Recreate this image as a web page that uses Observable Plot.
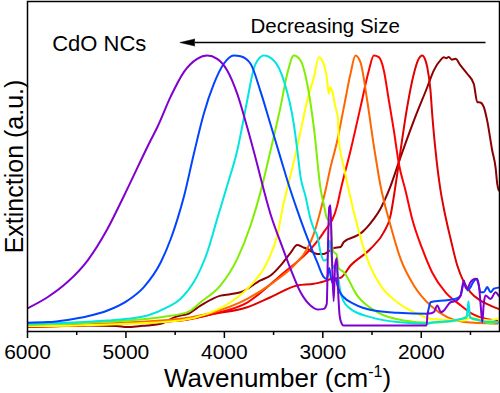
<!DOCTYPE html>
<html><head><meta charset="utf-8">
<script src="https://cdn.jsdelivr.net/npm/d3@7"></script>
<script src="https://cdn.jsdelivr.net/npm/@observablehq/plot@0.6"></script>
<style>body{margin:0;background:#fff;} svg{display:block}</style>
</head><body><div id="chart"></div>
<script>
// [wavenumber (cm-1), extinction (a.u., peak = 1)]
const s1 = [[6000,0.084],[5797,0.124],[5594,0.179],[5390,0.257],[5187,0.372],[5018,0.493],[4750,0.692],[4679,0.742],[4547,0.850],[4412,0.940],[4276,0.988],[4174,1.0],[4073,0.988],[3971,0.946],[3869,0.861],[3768,0.740],[3666,0.605],[3616,0.535],[3531,0.425],[3430,0.324],[3328,0.227],[3226,0.142],[3125,0.094],[3057,0.080],[2990,0.082],[2960,0.10],[2945,0.35],[2935,0.45],[2922,0.457],[2908,0.28],[2890,0.11],[2875,0.24],[2858,0.265],[2845,0.15],[2830,0.06],[2815,0.035],[2790,0.022],[2500,0.022],[2200,0.022],[1945,0.022],[1935,0.07],[1923,0.065],[1872,0.07],[1837,0.094],[1800,0.07],[1770,0.076],[1702,0.106],[1650,0.11],[1601,0.13],[1567,0.185],[1550,0.16],[1533,0.155],[1499,0.179],[1448,0.191],[1415,0.167],[1395,0.09],[1380,0.034],[1365,0.10],[1347,0.13],[1296,0.118],[1245,0.142],[1215,0.13]];
const s2 = [[6000,0.032],[5797,0.034],[5594,0.042],[5390,0.055],[5187,0.076],[4984,0.112],[4818,0.161],[4646,0.251],[4544,0.336],[4476,0.408],[4408,0.493],[4310,0.644],[4209,0.789],[4107,0.897],[4006,0.970],[3904,1.0],[3836,0.997],[3734,0.970],[3633,0.87],[3531,0.75],[3430,0.63],[3345,0.53],[3260,0.44],[3158,0.34],[3057,0.251],[2990,0.197],[2960,0.19],[2935,0.23],[2920,0.20],[2900,0.175],[2870,0.19],[2853,0.17],[2830,0.145],[2787,0.124],[2685,0.100],[2482,0.076],[2244,0.068],[1939,0.064],[1920,0.09],[1906,0.106],[1850,0.11],[1770,0.112],[1700,0.115],[1634,0.121],[1600,0.13],[1567,0.176],[1527,0.149],[1500,0.16],[1482,0.173],[1431,0.191],[1398,0.142],[1364,0.142],[1330,0.161],[1296,0.142],[1262,0.155],[1215,0.159]];
const s3 = [[6000,0.028],[5594,0.032],[5187,0.040],[4984,0.046],[4781,0.058],[4578,0.088],[4446,0.118],[4310,0.179],[4174,0.287],[4073,0.408],[3971,0.529],[3869,0.656],[3768,0.837],[3701,0.953],[3633,0.995],[3600,1.0],[3498,0.982],[3396,0.909],[3294,0.75],[3260,0.66],[3226,0.56],[3176,0.49],[3125,0.408],[3091,0.372],[3057,0.348],[3023,0.287],[2990,0.257],[2955,0.263],[2930,0.33],[2915,0.29],[2900,0.23],[2880,0.24],[2853,0.215],[2820,0.142],[2790,0.11],[2718,0.082],[2515,0.052],[2244,0.034],[1939,0.028],[1900,0.032],[1800,0.035],[1700,0.038],[1600,0.045],[1540,0.05],[1520,0.11],[1505,0.05],[1450,0.045],[1350,0.035],[1250,0.035],[1210,0.03]];
const s4 = [[6000,0.024],[5390,0.032],[4984,0.040],[4646,0.052],[4374,0.070],[4242,0.106],[4039,0.167],[3869,0.263],[3734,0.384],[3633,0.505],[3531,0.656],[3430,0.813],[3361,0.934],[3294,1.0],[3226,0.982],[3158,0.897],[3091,0.740],[3023,0.518],[2990,0.46],[2955,0.408],[2925,0.40],[2905,0.31],[2888,0.287],[2860,0.28],[2840,0.23],[2787,0.215],[2650,0.130],[2447,0.070],[2177,0.040],[1906,0.032],[1750,0.035],[1650,0.04],[1560,0.05],[1520,0.06],[1480,0.045],[1400,0.04],[1300,0.03],[1210,0.035]];
const s5 = [[6000,0.020],[5500,0.022],[4984,0.028],[4446,0.040],[4174,0.064],[3937,0.106],[3734,0.167],[3565,0.251],[3463,0.348],[3396,0.468],[3361,0.518],[3260,0.668],[3158,0.837],[3091,0.921],[3040,0.994],[3006,0.982],[2955,0.909],[2940,0.861],[2925,0.885],[2904,0.87],[2871,0.813],[2855,0.79],[2847,0.776],[2837,0.692],[2786,0.595],[2736,0.511],[2650,0.384],[2549,0.263],[2414,0.167],[2244,0.106],[2075,0.070],[1906,0.046],[1750,0.042],[1567,0.040],[1500,0.05],[1400,0.045],[1300,0.04],[1228,0.046]];
const s6 = [[6000,0.020],[5500,0.024],[4984,0.033],[4446,0.046],[4107,0.070],[3768,0.118],[3498,0.179],[3294,0.239],[3158,0.30],[3095,0.35],[3023,0.438],[2973,0.511],[2922,0.594],[2853,0.692],[2786,0.813],[2718,0.935],[2668,1.0],[2617,0.975],[2549,0.837],[2482,0.674],[2414,0.529],[2312,0.384],[2210,0.263],[2075,0.167],[1906,0.094],[1736,0.052],[1567,0.034],[1228,0.028]];
const s7 = [[6000,0.018],[5500,0.022],[5000,0.03],[4446,0.040],[4100,0.065],[3768,0.105],[3430,0.203],[3091,0.312],[2990,0.36],[2853,0.457],[2820,0.511],[2718,0.656],[2617,0.813],[2532,0.946],[2482,1.0],[2431,0.994],[2380,0.946],[2329,0.837],[2278,0.728],[2227,0.607],[2160,0.511],[2092,0.408],[1990,0.30],[1889,0.214],[1753,0.142],[1618,0.100],[1482,0.064],[1347,0.046],[1228,0.040]];
const s8 = [[6000,0.018],[5500,0.022],[4984,0.030],[4446,0.040],[4107,0.064],[3768,0.088],[3531,0.124],[3260,0.167],[3091,0.173],[2955,0.185],[2922,0.19],[2820,0.195],[2718,0.239],[2515,0.30],[2380,0.36],[2312,0.42],[2278,0.49],[2244,0.57],[2210,0.656],[2143,0.813],[2075,0.934],[2030,0.985],[1990,1.0],[1960,0.985],[1939,0.958],[1906,0.873],[1889,0.789],[1855,0.656],[1804,0.511],[1770,0.445],[1702,0.336],[1634,0.239],[1567,0.179],[1499,0.142],[1398,0.112],[1296,0.094],[1215,0.082]];
const s9 = [[6000,0.018],[5600,0.02],[5390,0.022],[5100,0.02],[4984,0.016],[4850,0.02],[4781,0.022],[4646,0.028],[4510,0.051],[4446,0.058],[4374,0.063],[4242,0.094],[4039,0.130],[3940,0.135],[3836,0.142],[3633,0.185],[3531,0.203],[3430,0.239],[3328,0.285],[3260,0.313],[3200,0.305],[3158,0.299],[3057,0.281],[2990,0.281],[2940,0.29],[2888,0.302],[2820,0.306],[2787,0.324],[2650,0.348],[2600,0.36],[2549,0.378],[2482,0.408],[2414,0.445],[2329,0.511],[2210,0.632],[2075,0.764],[1939,0.885],[1872,0.946],[1800,0.985],[1770,0.994],[1745,0.99],[1720,0.995],[1690,0.985],[1652,0.988],[1601,0.964],[1533,0.934],[1466,0.897],[1431,0.831],[1400,0.83],[1364,0.813],[1330,0.764],[1279,0.656],[1245,0.595],[1228,0.535],[1212,0.511]];

// drawing order: bottom to top
const seriesNames = ["s9","s8","s7","s6","s5","s4","s3","s2","s1"];
const seriesColors = ["#8b0000","#e00000","#ff0000","#ff6600","#ffff00","#80ee00","#00e5e0","#0044ff","#8000d0"];
const seriesData = [s9, s8, s7, s6, s5, s4, s3, s2, s1];

const majorTicks = [6000,5000,4000,3000,2000];
const minorTicks = [5500,4500,3500,2500,1500];
const xLabel = "Wavenumber (cm-1)";
const yLabel = "Extinction (a.u.)";
const notes = [{x:5749, y:1.018, t:"CdO NCs", size:22},{x:3734, y:1.083, t:"Decreasing Size", size:20.5}];
const arrowLine = [{x1:1347, x2:4300, y:1.047}];
const arrowHead = [{x:4300, y:1.047}];

const rows = seriesData.flatMap((arr,i)=>arr.map(([w,e])=>({w, e, s:seriesNames[i]})));

const chart = Plot.plot({
  width:500, height:393, marginLeft:27, marginRight:1, marginTop:1, marginBottom:62,
  style:{fontFamily:"'Liberation Sans', Arial, sans-serif", fontSize:"21px", background:"white", color:"black"},
  x:{domain:[6000,1205], label:null},
  y:{domain:[0,1.1957], axis:null},
  color:{type:"ordinal", domain:seriesNames, range:seriesColors},
  marks:[
    Plot.line(rows, {x:"w", y:"e", z:"s", stroke:"s", strokeWidth:2, curve:"monotone-x", clip:true}),
    Plot.axisX({ticks:minorTicks, tickSize:4, tickFormat:()=>"", label:null, strokeWidth:1.5}),
    Plot.axisX({ticks:majorTicks, tickSize:7, tickPadding:6, tickFormat:d3.format("d"), label:null, strokeWidth:1.5, fontSize:21}),
    Plot.frame({stroke:"black", strokeWidth:1.5}),
    Plot.text(notes, {x:"x", y:"y", text:"t", fontSize:"size", textAnchor:"start", lineAnchor:"bottom", fill:"black"}),
    Plot.link(arrowLine, {x1:"x1", x2:"x2", y1:"y", y2:"y", stroke:"black", strokeWidth:1.5}),
    Plot.vector(arrowHead, {x:"x", y:"y", length:15, rotate:-90, r:3.5, shape:"spike", anchor:"start", fill:"black", stroke:"black", strokeWidth:0.5}),
    Plot.text([yLabel], {frameAnchor:"left", textAnchor:"middle", rotate:-90, dx:-13, fontSize:25, fill:"black"}),
    Plot.text([xLabel], {frameAnchor:"bottom", textAnchor:"middle", dy:55, dx:14, lineAnchor:"bottom", fontSize:26, fill:"black"})
  ]
});
document.getElementById("chart").appendChild(chart);
d3.select(chart).selectAll("text").filter(function(){return this.textContent === xLabel;}).each(function(){
  const t = d3.select(this);
  t.text(null);
  t.append("tspan").text("Wavenumber (cm");
  t.append("tspan").attr("dy", -10).attr("font-size", 16).text("-1");
  t.append("tspan").attr("dy", 10).text(")");
});
</script></body></html>
